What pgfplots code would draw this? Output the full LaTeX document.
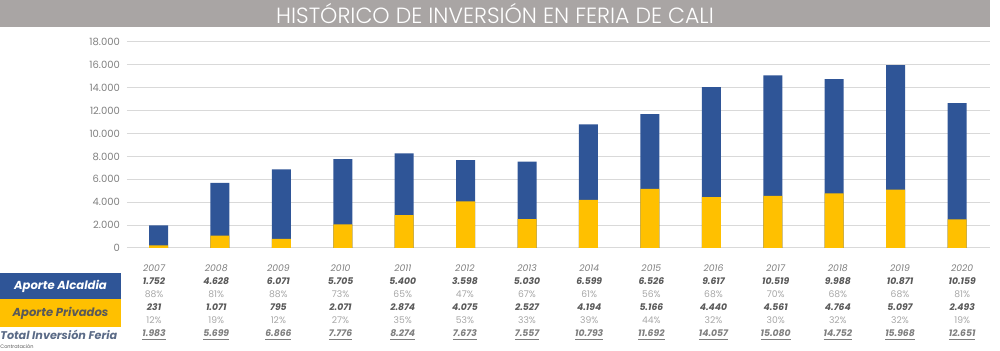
\documentclass[border=0pt]{standalone}
\usepackage{fontspec}
\setmainfont{Poppins}
\newfontfamily\lightfont{Poppins Light}
\usepackage{pgfplots}
\usepackage{pgfplotstable}
\pgfplotsset{compat=1.18}
\definecolor{cblue}{HTML}{2F5597}
\definecolor{cyellow}{HTML}{FFC000}
\definecolor{banner}{HTML}{A9A5A4}
\definecolor{gridc}{HTML}{D9D9D9}
\definecolor{tickc}{HTML}{7F7F7F}
\definecolor{valc}{HTML}{595959}
\definecolor{pctc}{HTML}{A6A6A6}
\definecolor{totc}{HTML}{5B6B87}

\pgfplotstableread{
year alc priv total alcp privp
2007 1752 231 1983 88 12
2008 4628 1071 5699 81 19
2009 6071 795 6866 88 12
2010 5705 2071 7776 73 27
2011 5400 2874 8274 65 35
2012 3598 4075 7673 47 53
2013 5030 2527 7557 67 33
2014 6599 4194 10793 61 39
2015 6526 5166 11692 56 44
2016 9617 4440 14057 68 32
2017 10519 4561 15080 70 30
2018 9988 4764 14752 68 32
2019 10871 5097 15968 68 32
2020 10159 2493 12651 81 19
}\datatable

\pgfplotsset{
  tabrow/.style={draw=none, mark=none, point meta=explicit symbolic,
    every node near coord/.append style={anchor=center, inner sep=0pt, font=#1}},
}

\begin{document}
\begin{tikzpicture}
\useasboundingbox (-63.5pt,-51.5pt) rectangle (436.5pt,124pt);
\fill[banner] (-63.5pt,110.5pt) rectangle (431.5pt,124pt);
\node[text=white, inner sep=0pt, font=\lightfont\fontsize{11}{11}\selectfont] at (184pt,117.25pt) {HISTÓRICO DE INVERSIÓN EN FERIA DE CALI};
\begin{axis}[
  scale only axis, width=431.5pt, height=103pt,
  xmin=2006.487, xmax=2020.537, ymin=0, ymax=18000,
  axis line style={draw=none},
  xtick=\empty,
  ytick={0,2000,...,18000},
  scaled y ticks=false,
  major tick length=0pt,
  ymajorgrids, grid style={gridc, line width=0.5pt},
  /pgf/number format/assume math mode=true,
  yticklabel style={font=\fontsize{5}{5}\selectfont, text=tickc, /pgf/number format/.cd, fixed, 1000 sep={.}},
  clip=false,
]
\addplot[ybar, bar width=9.5pt, bar shift=0pt, fill=cblue, draw=none] table[x=year, y=total] {\datatable};
\addplot[ybar, bar width=9.5pt, bar shift=0pt, fill=cyellow, draw=none] table[x=year, y=priv] {\datatable};

% years
\addplot[tabrow={\itshape\fontsize{4.6}{4.6}\selectfont}, every node near coord/.append style={text=tickc},
  nodes near coords={\pgfplotspointmeta}]
  table[x expr=\thisrow{year}+0.012*(\thisrow{year}-2013), y expr=-1748, meta=year] {\datatable};
% alcaldia
\addplot[tabrow={\bfseries\itshape\fontsize{4.6}{4.6}\selectfont}, every node near coord/.append style={text=valc},
  nodes near coords={\pgfmathprintnumber[1000 sep={.}]{\pgfplotspointmeta}}]
  table[x expr=\thisrow{year}+0.012*(\thisrow{year}-2013), y expr=-2884, meta=alc] {\datatable};
\addplot[tabrow={\fontsize{4.6}{4.6}\selectfont}, every node near coord/.append style={text=pctc},
  nodes near coords={\pgfplotspointmeta\%}]
  table[x expr=\thisrow{year}+0.012*(\thisrow{year}-2013), y expr=-4019, meta=alcp] {\datatable};
% privados
\addplot[tabrow={\bfseries\itshape\fontsize{4.6}{4.6}\selectfont}, every node near coord/.append style={text=valc},
  nodes near coords={\pgfmathprintnumber[1000 sep={.}]{\pgfplotspointmeta}}]
  table[x expr=\thisrow{year}+0.012*(\thisrow{year}-2013), y expr=-5155, meta=priv] {\datatable};
\addplot[tabrow={\fontsize{4.6}{4.6}\selectfont}, every node near coord/.append style={text=pctc},
  nodes near coords={\pgfplotspointmeta\%}]
  table[x expr=\thisrow{year}+0.012*(\thisrow{year}-2013), y expr=-6291, meta=privp] {\datatable};
% totals
\addplot[tabrow={\bfseries\itshape\fontsize{4.6}{4.6}\selectfont}, every node near coord/.append style={text=tickc},
  nodes near coords={\underline{\pgfmathprintnumber[1000 sep={.}]{\pgfplotspointmeta}}}]
  table[x expr=\thisrow{year}+0.012*(\thisrow{year}-2013), y expr=-7602, meta=total] {\datatable};
\end{axis}
\fill[cblue] (-63.5pt,-12.5pt) rectangle (-3pt,-25.5pt);
\fill[cyellow] (-63.5pt,-25.5pt) rectangle (-3pt,-39.5pt);
\node[text=white, inner sep=0pt, font=\bfseries\itshape\fontsize{5.8}{5.8}\selectfont] at (-33.25pt,-19pt) {Aporte Alcaldia};
\node[text=valc, inner sep=0pt, font=\bfseries\itshape\fontsize{5.8}{5.8}\selectfont] at (-33.25pt,-32.5pt) {Aporte Privados};
\node[anchor=west, inner sep=0pt, text=totc, font=\bfseries\itshape\fontsize{5.6}{5.6}\selectfont] at (-63.5pt,-43.5pt) {Total Inversión Feria};
\node[anchor=west, inner sep=0pt, text=valc, font=\fontsize{2.5}{2.5}\selectfont] at (-63.5pt,-49.5pt) {Contratación};
\end{tikzpicture}
\end{document}
